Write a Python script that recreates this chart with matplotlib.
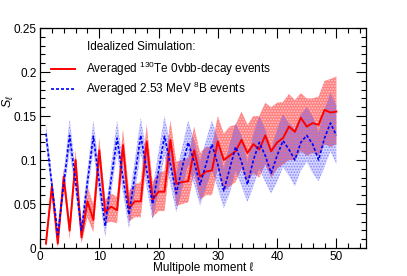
import numpy as np
import matplotlib
matplotlib.use("Agg")
import matplotlib.pyplot as plt
from matplotlib.ticker import MultipleLocator, FuncFormatter

plt.rcParams['font.family'] = ['Liberation Sans', 'DejaVu Sans']
plt.rcParams['mathtext.fontset'] = 'custom'
plt.rcParams['mathtext.rm'] = 'Liberation Sans'
plt.rcParams['mathtext.it'] = 'Liberation Sans:italic'
plt.rcParams['hatch.linewidth'] = 0.8

ell = np.arange(1, 51)

# 130Te 0vbb-decay, averaged S_l
te_mean = [0.005, 0.070, 0.005, 0.081, 0.020, 0.100, 0.012, 0.053, 0.032, 0.111,
           0.041, 0.047, 0.043, 0.117, 0.045, 0.053, 0.053, 0.121, 0.055, 0.064,
           0.064, 0.123, 0.073, 0.075, 0.076, 0.111, 0.081, 0.087, 0.088, 0.121,
           0.100, 0.105, 0.110, 0.123, 0.108, 0.118, 0.112, 0.128, 0.110, 0.120,
           0.125, 0.138, 0.132, 0.148, 0.138, 0.142, 0.140, 0.157, 0.154, 0.155]
te_lo = [0.000, 0.060, 0.000, 0.070, 0.010, 0.088, 0.005, 0.035, 0.018, 0.095,
         0.028, 0.030, 0.028, 0.100, 0.030, 0.035, 0.035, 0.100, 0.035, 0.042,
         0.042, 0.100, 0.048, 0.050, 0.052, 0.085, 0.055, 0.060, 0.060, 0.090,
         0.065, 0.070, 0.075, 0.090, 0.075, 0.085, 0.080, 0.095, 0.080, 0.090,
         0.095, 0.100, 0.100, 0.110, 0.105, 0.108, 0.105, 0.118, 0.115, 0.118]
te_hi = [0.012, 0.080, 0.012, 0.090, 0.030, 0.112, 0.022, 0.070, 0.050, 0.125,
         0.055, 0.062, 0.058, 0.135, 0.065, 0.072, 0.075, 0.140, 0.075, 0.085,
         0.088, 0.145, 0.098, 0.100, 0.102, 0.138, 0.108, 0.115, 0.115, 0.150,
         0.130, 0.138, 0.140, 0.155, 0.140, 0.150, 0.150, 0.165, 0.160, 0.165,
         0.166, 0.175, 0.168, 0.176, 0.170, 0.170, 0.172, 0.190, 0.192, 0.195]

# 2.53 MeV 8B, averaged S_l
b8_mean = [0.130, 0.072, 0.015, 0.072, 0.128, 0.075, 0.020, 0.075, 0.127, 0.075,
           0.025, 0.078, 0.125, 0.080, 0.038, 0.082, 0.128, 0.088, 0.050, 0.088,
           0.127, 0.095, 0.062, 0.092, 0.120, 0.098, 0.072, 0.095, 0.118, 0.095,
           0.065, 0.090, 0.115, 0.098, 0.072, 0.100, 0.120, 0.105, 0.085, 0.105,
           0.122, 0.112, 0.100, 0.120, 0.128, 0.118, 0.100, 0.125, 0.142, 0.128]
b8_lo = [0.118, 0.062, 0.008, 0.060, 0.110, 0.062, 0.010, 0.062, 0.110, 0.060,
         0.012, 0.062, 0.108, 0.062, 0.022, 0.062, 0.108, 0.068, 0.032, 0.065,
         0.105, 0.072, 0.040, 0.068, 0.095, 0.072, 0.048, 0.068, 0.090, 0.068,
         0.045, 0.062, 0.088, 0.070, 0.052, 0.070, 0.090, 0.075, 0.062, 0.075,
         0.092, 0.082, 0.070, 0.088, 0.098, 0.085, 0.076, 0.092, 0.110, 0.095]
b8_hi = [0.142, 0.082, 0.025, 0.085, 0.147, 0.088, 0.032, 0.088, 0.145, 0.090,
         0.038, 0.095, 0.145, 0.098, 0.055, 0.100, 0.148, 0.108, 0.068, 0.110,
         0.150, 0.118, 0.085, 0.115, 0.145, 0.122, 0.098, 0.122, 0.145, 0.125,
         0.090, 0.118, 0.142, 0.128, 0.098, 0.130, 0.150, 0.135, 0.112, 0.135,
         0.152, 0.142, 0.135, 0.152, 0.160, 0.150, 0.132, 0.158, 0.176, 0.162]

fig = plt.figure(figsize=(4.07, 2.76), dpi=100)
ax = fig.add_axes([0.0983, 0.1014, 0.801, 0.797])

ax.fill_between(ell, te_lo, te_hi, facecolor='#ff8080', edgecolor='#ffc8c8',
                hatch='......', linewidth=0, zorder=1)
ax.fill_between(ell, b8_lo, b8_hi, facecolor=(0.25, 0.25, 1.0, 0.22),
                edgecolor=(0.3, 0.3, 1.0, 0.55), hatch='......', linewidth=0, zorder=2)
ax.plot(ell, te_mean, color='red', lw=1.4, zorder=3,
        label=r'Averaged $^{130}$Te 0vbb-decay events')
ax.plot(ell, b8_mean, color='blue', lw=1.2, ls=(0, (1.8, 1.2)), zorder=4,
        label=r'Averaged 2.53 MeV $^{8}$B events')

ax.set_xlim(0, 55)
ax.set_ylim(0, 0.25)
ax.xaxis.set_major_locator(MultipleLocator(10))
ax.xaxis.set_minor_locator(MultipleLocator(2))
ax.yaxis.set_major_locator(MultipleLocator(0.05))
ax.yaxis.set_minor_locator(MultipleLocator(0.01))
ax.xaxis.set_major_formatter(FuncFormatter(lambda v, p: '%g' % v if v <= 50 else ''))
ax.yaxis.set_major_formatter(FuncFormatter(lambda v, p: '%g' % round(v, 3)))
ax.tick_params(which='both', direction='in', top=True, right=True,
               labelsize=8.5, width=0.8)
ax.tick_params(axis='x', pad=2)
ax.tick_params(axis='y', pad=2.5)
ax.tick_params(which='major', length=7)
ax.tick_params(which='minor', length=3.5)
for s in ax.spines.values():
    s.set_linewidth(0.9)

ax.set_xlabel('Multipole moment \u2113', fontsize=8.5)
ax.xaxis.set_label_coords(0.5, -0.091)
ax.xaxis.label.set_va('center')
ax.set_ylabel(r'$S_\ell$', fontsize=9)
ax.yaxis.set_label_coords(-0.097, 0.665)
ax.yaxis.label.set_va('center')

ax.text(0.144, 0.915, 'Idealized Simulation:', transform=ax.transAxes,
        fontsize=8.5, va='center', ha='left')
ax.legend(loc='upper left', bbox_to_anchor=(0.035, 0.857), frameon=False,
          fontsize=8.5, handlelength=2.0, handletextpad=0.9, labelspacing=0.15,
          borderpad=0, borderaxespad=0)

fig.savefig('out.png', dpi=100)
